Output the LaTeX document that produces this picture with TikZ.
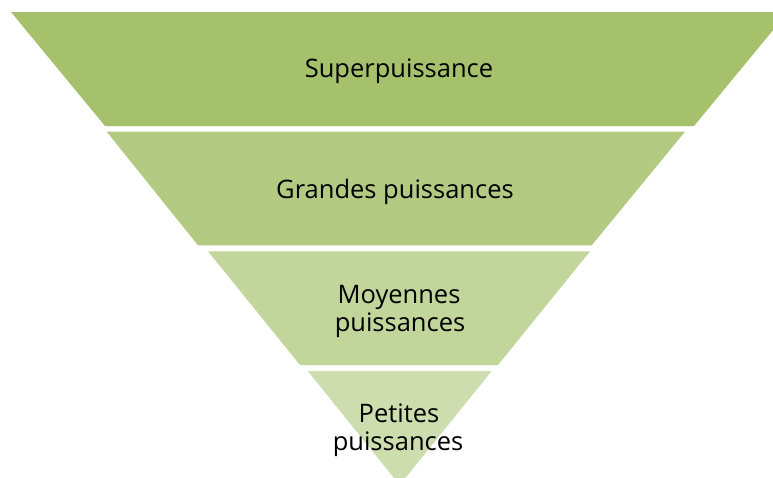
\documentclass[tikz,border=0pt]{standalone}
\usepackage{fontspec}
\setmainfont{Open Sans}
\definecolor{bandA}{HTML}{A6C16C}
\definecolor{bandB}{HTML}{B3CA82}
\definecolor{bandC}{HTML}{C2D59A}
\definecolor{bandD}{HTML}{CEDDAD}
\begin{document}
\begin{tikzpicture}[x=1pt,y=-1pt,
  lbl/.style={font=\fontsize{25.5}{28}\selectfont, text=black, align=center, anchor=base, inner sep=0pt}]
\useasboundingbox (0,0) rectangle (773,477);
\fill[white] (0,0) rectangle (773,477);
\begin{scope}
\clip (0,0) rectangle (773,477);
\fill[bandA] (11,12) -- (788,12) -- (694,126) -- (105,126) -- cycle;
\fill[bandB] (106.7,131.7) -- (685,131.7) -- (591.7,245.3) -- (198,245.3) -- cycle;
\fill[bandC] (208,251.3) -- (590,251.3) -- (498,365) -- (300,365) -- cycle;
\fill[bandD] (307.7,371) -- (491.7,371) -- (399.7,485) -- cycle;
\end{scope}
\node[lbl] (t1) at (399,77) {Superpuissance};
\node[lbl] (t2) at (395,198) {Grandes puissances};
\node[lbl] (t3a) at (399,303) {Moyennes};
\node[lbl] (t3b) at (400,331) {puissances};
\node[lbl] (t4a) at (399,422) {Petites};
\node[lbl] (t4b) at (398,450) {puissances};
\end{tikzpicture}
\end{document}
